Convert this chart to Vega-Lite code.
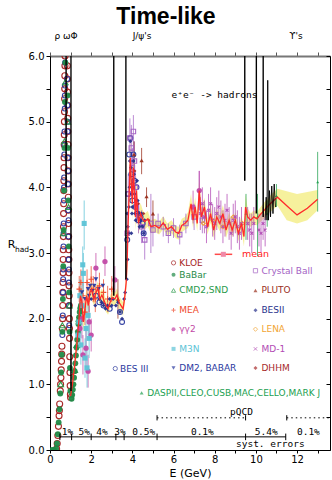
{
"$schema":"https://vega.github.io/schema/vega-lite/v6.json",
"width":280,"height":394,
"autosize":{"type":"none"},
"padding":{"left":50,"top":56,"right":2,"bottom":30},
"title":{"text":"Time-like","font":"Liberation Sans","fontSize":23,"fontWeight":"bold","anchor":"middle","dx":-24,"offset":3,"color":"#000"},
"config":{"view":{"stroke":null},"font":"DejaVu Sans"},
"datasets":{
"mean":[
{"x":1.0,"y":0.82,"lo":0.74,"hi":0.9},{"x":1.1,"y":1.02,"lo":0.92,"hi":1.12},{"x":1.2,"y":1.3,"lo":1.18,"hi":1.42},{"x":1.3,"y":1.6,"lo":1.46,"hi":1.74},{"x":1.4,"y":1.95,"lo":1.8,"hi":2.1},{"x":1.48,"y":2.35,"lo":2.2,"hi":2.5},{"x":1.55,"y":2.25,"lo":2.1,"hi":2.4},{"x":1.62,"y":1.95,"lo":1.8,"hi":2.1},{"x":1.7,"y":2.15,"lo":2.0,"hi":2.3},{"x":1.78,"y":2.35,"lo":2.22,"hi":2.48},{"x":1.86,"y":2.2,"lo":2.08,"hi":2.32},{"x":1.94,"y":2.4,"lo":2.28,"hi":2.52},{"x":2.02,"y":2.45,"lo":2.33,"hi":2.57},{"x":2.12,"y":2.3,"lo":2.2,"hi":2.4},{"x":2.22,"y":2.38,"lo":2.28,"hi":2.48},{"x":2.32,"y":2.47,"lo":2.37,"hi":2.57},{"x":2.42,"y":2.3,"lo":2.2,"hi":2.4},{"x":2.52,"y":2.36,"lo":2.26,"hi":2.46},{"x":2.62,"y":2.28,"lo":2.18,"hi":2.38},{"x":2.72,"y":2.2,"lo":2.1,"hi":2.3},{"x":2.82,"y":2.15,"lo":2.06,"hi":2.24},{"x":2.92,"y":2.25,"lo":2.15,"hi":2.35},{"x":3.02,"y":2.32,"lo":2.22,"hi":2.42},{"x":3.15,"y":2.3,"lo":2.2,"hi":2.4},{"x":3.25,"y":2.36,"lo":2.26,"hi":2.46},{"x":3.35,"y":2.25,"lo":2.15,"hi":2.35},{"x":3.45,"y":2.2,"lo":2.1,"hi":2.3},{"x":3.55,"y":2.15,"lo":2.05,"hi":2.25},{"x":3.62,"y":2.3,"lo":2.2,"hi":2.4},{"x":3.7,"y":2.55,"lo":2.4,"hi":2.7},{"x":3.75,"y":2.9,"lo":2.7,"hi":3.1},{"x":3.8,"y":3.5,"lo":3.25,"hi":3.75},{"x":3.85,"y":3.95,"lo":3.7,"hi":4.2},{"x":3.9,"y":4.45,"lo":4.15,"hi":4.75},{"x":3.95,"y":4.05,"lo":3.8,"hi":4.3},{"x":4.0,"y":3.75,"lo":3.5,"hi":4.0},{"x":4.05,"y":4.3,"lo":4.05,"hi":4.55},{"x":4.1,"y":3.9,"lo":3.65,"hi":4.15},{"x":4.15,"y":3.55,"lo":3.35,"hi":3.75},{"x":4.2,"y":3.95,"lo":3.7,"hi":4.2},{"x":4.25,"y":3.65,"lo":3.45,"hi":3.85},{"x":4.3,"y":3.45,"lo":3.28,"hi":3.62},{"x":4.4,"y":3.6,"lo":3.44,"hi":3.76},{"x":4.5,"y":3.52,"lo":3.38,"hi":3.66},{"x":4.6,"y":3.48,"lo":3.36,"hi":3.6},{"x":4.75,"y":3.52,"lo":3.4,"hi":3.64},{"x":4.9,"y":3.4,"lo":3.3,"hi":3.5},{"x":5.1,"y":3.42,"lo":3.32,"hi":3.52},{"x":5.3,"y":3.38,"lo":3.28,"hi":3.48},{"x":5.5,"y":3.46,"lo":3.36,"hi":3.56},{"x":5.7,"y":3.36,"lo":3.27,"hi":3.45},{"x":5.9,"y":3.4,"lo":3.3,"hi":3.5},{"x":6.1,"y":3.32,"lo":3.23,"hi":3.41},{"x":6.25,"y":3.3,"lo":3.2,"hi":3.4},{"x":6.4,"y":3.42,"lo":3.32,"hi":3.52},{"x":6.55,"y":3.45,"lo":3.35,"hi":3.55},{"x":6.7,"y":3.5,"lo":3.38,"hi":3.62},{"x":6.85,"y":3.75,"lo":3.6,"hi":3.9},{"x":6.95,"y":3.5,"lo":3.38,"hi":3.62},{"x":7.05,"y":3.7,"lo":3.55,"hi":3.85},{"x":7.15,"y":3.45,"lo":3.33,"hi":3.57},{"x":7.25,"y":3.95,"lo":3.75,"hi":4.15},{"x":7.35,"y":3.55,"lo":3.42,"hi":3.68},{"x":7.5,"y":3.7,"lo":3.56,"hi":3.84},{"x":7.65,"y":3.4,"lo":3.28,"hi":3.52},{"x":7.8,"y":3.6,"lo":3.46,"hi":3.74},{"x":7.95,"y":3.35,"lo":3.23,"hi":3.47},{"x":8.1,"y":3.55,"lo":3.42,"hi":3.68},{"x":8.25,"y":3.45,"lo":3.33,"hi":3.57},{"x":8.4,"y":3.6,"lo":3.47,"hi":3.73},{"x":8.55,"y":3.35,"lo":3.23,"hi":3.47},{"x":8.7,"y":3.5,"lo":3.38,"hi":3.62},{"x":8.85,"y":3.35,"lo":3.24,"hi":3.46},{"x":9.0,"y":3.5,"lo":3.38,"hi":3.62},{"x":9.15,"y":3.3,"lo":3.18,"hi":3.42},{"x":9.3,"y":3.45,"lo":3.33,"hi":3.57},{"x":9.42,"y":3.25,"lo":3.1,"hi":3.4},{"x":9.5,"y":3.7,"lo":3.5,"hi":3.9},{"x":9.6,"y":3.55,"lo":3.42,"hi":3.68},{"x":9.75,"y":3.5,"lo":3.4,"hi":3.6},{"x":9.9,"y":3.55,"lo":3.45,"hi":3.65},{"x":10.05,"y":3.52,"lo":3.42,"hi":3.62},{"x":10.2,"y":3.58,"lo":3.47,"hi":3.69},{"x":10.4,"y":3.65,"lo":3.53,"hi":3.77},{"x":10.6,"y":3.72,"lo":3.6,"hi":3.84},{"x":10.8,"y":3.78,"lo":3.65,"hi":3.91},{"x":11.05,"y":3.85,"lo":3.72,"hi":3.98},{"x":11.5,"y":3.72,"lo":3.5,"hi":3.94},{"x":12.0,"y":3.58,"lo":3.45,"hi":3.9},{"x":12.5,"y":3.68,"lo":3.5,"hi":3.93},{"x":13.0,"y":3.82,"lo":3.65,"hi":3.96}
],
"res":[
{"g":"w","x":0.775,"y":4},{"g":"w","x":0.782,"y":7},{"g":"w","x":0.789,"y":4},
{"g":"phi","x":1.012,"y":0.9},{"g":"phi","x":1.019,"y":7},{"g":"phi","x":1.026,"y":0.9},
{"g":"jpsi","x":3.09,"y":2.35},{"g":"jpsi","x":3.097,"y":7},{"g":"jpsi","x":3.104,"y":2.35},
{"g":"psi2","x":3.68,"y":2.6},{"g":"psi2","x":3.686,"y":7},{"g":"psi2","x":3.692,"y":2.6},
{"g":"y1","x":9.455,"y":4.1},{"g":"y1","x":9.46,"y":7},{"g":"y1","x":9.465,"y":4.1},
{"g":"y2","x":10.018,"y":3.6},{"g":"y2","x":10.023,"y":7},{"g":"y2","x":10.028,"y":3.6},
{"g":"y3","x":10.35,"y":3.55},{"g":"y3","x":10.355,"y":7},{"g":"y3","x":10.36,"y":3.55}
],
"wig":[
{"x":10.45,"y":3.5},{"x":10.5,"y":3.85},{"x":10.54,"y":3.5},{"x":10.575,"y":5.63},{"x":10.61,"y":3.5},{"x":10.66,"y":3.95},{"x":10.71,"y":3.55},{"x":10.77,"y":4.02},{"x":10.83,"y":3.6},{"x":10.89,"y":4.05},{"x":10.95,"y":3.7}
],
"pts":[
{"s":"KLOE","x":0.32,"y":0.02},{"s":"KLOE","x":0.35,"y":0.1},{"s":"KLOE","x":0.38,"y":0.22},{"s":"KLOE","x":0.41,"y":0.36},{"s":"KLOE","x":0.44,"y":0.52},{"s":"KLOE","x":0.47,"y":0.7},{"s":"KLOE","x":0.5,"y":0.9},{"s":"KLOE","x":0.53,"y":1.1},{"s":"KLOE","x":0.56,"y":1.35},{"s":"KLOE","x":0.58,"y":1.58},{"s":"KLOE","x":0.6,"y":1.85},{"s":"KLOE","x":0.62,"y":2.2},{"s":"KLOE","x":0.63,"y":2.55},{"s":"KLOE","x":0.64,"y":2.9},{"s":"KLOE","x":0.65,"y":3.25},{"s":"KLOE","x":0.66,"y":3.6},{"s":"KLOE","x":0.67,"y":3.95},{"s":"KLOE","x":0.68,"y":4.3},{"s":"KLOE","x":0.69,"y":4.65},{"s":"KLOE","x":0.7,"y":5.0},{"s":"KLOE","x":0.71,"y":5.35},{"s":"KLOE","x":0.72,"y":5.7},{"s":"KLOE","x":0.73,"y":6.0},{"s":"KLOE","x":0.84,"y":5.85},{"s":"KLOE","x":0.85,"y":5.45},{"s":"KLOE","x":0.86,"y":5.05},{"s":"KLOE","x":0.87,"y":4.65},{"s":"KLOE","x":0.88,"y":4.25},{"s":"KLOE","x":0.89,"y":3.85},{"s":"KLOE","x":0.9,"y":3.45},{"s":"KLOE","x":0.91,"y":3.05},{"s":"KLOE","x":0.92,"y":2.7},{"s":"KLOE","x":0.93,"y":2.35},{"s":"KLOE","x":0.94,"y":2.0},{"s":"KLOE","x":0.95,"y":1.7},{"s":"KLOE","x":0.96,"y":1.42},{"s":"KLOE","x":0.97,"y":1.18},{"s":"KLOE","x":0.98,"y":0.98},{"s":"KLOE","x":0.99,"y":0.85},{"s":"KLOE","x":1.0,"y":0.8},
{"s":"KLOE","x":0.615,"y":2.0},{"s":"KLOE","x":0.625,"y":2.4},{"s":"KLOE","x":0.635,"y":2.7},{"s":"KLOE","x":0.645,"y":3.05},{"s":"KLOE","x":0.655,"y":3.4},{"s":"KLOE","x":0.665,"y":3.75},{"s":"KLOE","x":0.675,"y":4.1},{"s":"KLOE","x":0.685,"y":4.45},{"s":"KLOE","x":0.695,"y":4.8},{"s":"KLOE","x":0.705,"y":5.15},{"s":"KLOE","x":0.715,"y":5.5},{"s":"KLOE","x":0.725,"y":5.85},{"s":"KLOE","x":0.845,"y":5.65},{"s":"KLOE","x":0.855,"y":5.25},{"s":"KLOE","x":0.865,"y":4.85},{"s":"KLOE","x":0.875,"y":4.45},{"s":"KLOE","x":0.885,"y":4.05},{"s":"KLOE","x":0.895,"y":3.65},{"s":"KLOE","x":0.905,"y":3.25},{"s":"KLOE","x":0.915,"y":2.9},{"s":"KLOE","x":0.925,"y":2.5},{"s":"KLOE","x":0.935,"y":2.2},{"s":"KLOE","x":0.945,"y":1.85},{"s":"KLOE","x":0.455,"y":0.6},{"s":"KLOE","x":0.515,"y":1.0},{"s":"KLOE","x":0.545,"y":1.22},{"s":"KLOE","x":0.57,"y":1.46},
{"s":"BES3","x":0.6,"y":1.75},{"s":"BES3","x":0.62,"y":2.05},{"s":"BES3","x":0.63,"y":2.4},{"s":"BES3","x":0.645,"y":2.75},{"s":"BES3","x":0.655,"y":3.1},{"s":"BES3","x":0.665,"y":3.45},{"s":"BES3","x":0.675,"y":3.8},{"s":"BES3","x":0.685,"y":4.15},{"s":"BES3","x":0.695,"y":4.5},{"s":"BES3","x":0.705,"y":4.85},{"s":"BES3","x":0.715,"y":5.2},{"s":"BES3","x":0.725,"y":5.55},{"s":"BES3","x":0.735,"y":5.9},{"s":"BES3","x":0.835,"y":5.65},{"s":"BES3","x":0.845,"y":5.25},{"s":"BES3","x":0.855,"y":4.85},{"s":"BES3","x":0.865,"y":4.45},{"s":"BES3","x":0.875,"y":4.05},{"s":"BES3","x":0.885,"y":3.65},{"s":"BES3","x":0.895,"y":3.25},{"s":"BES3","x":0.905,"y":2.9},{"s":"BES3","x":0.915,"y":2.55},{"s":"BES3","x":0.925,"y":2.2},{"s":"BES3","x":0.935,"y":1.9},
{"s":"BES3","x":0.64,"y":2.6},{"s":"BES3","x":0.66,"y":3.3},{"s":"BES3","x":0.68,"y":4.0},{"s":"BES3","x":0.7,"y":4.65},{"s":"BES3","x":0.72,"y":5.4},{"s":"BES3","x":0.86,"y":5.0},{"s":"BES3","x":0.88,"y":4.25},{"s":"BES3","x":0.9,"y":3.5},{"s":"BES3","x":0.92,"y":2.75},
{"s":"BES3","x":2.23,"y":2.35},{"s":"BES3","x":2.4,"y":2.25},{"s":"BES3","x":2.6,"y":2.2},{"s":"BES3","x":2.9,"y":2.15},{"s":"BES3","x":3.4,"y":2.1},{"s":"BES3","x":3.5,"y":1.95},{"s":"BES3","x":3.75,"y":3.2},{"s":"BES3","x":3.8,"y":3.9},{"s":"BES3","x":3.85,"y":4.5},{"s":"BES3","x":3.9,"y":4.75},{"s":"BES3","x":3.95,"y":4.2},{"s":"BES3","x":4.0,"y":3.8},{"s":"BES3","x":4.05,"y":4.5},{"s":"BES3","x":4.1,"y":4.1},{"s":"BES3","x":4.15,"y":3.7},{"s":"BES3","x":4.2,"y":4.0},{"s":"BES3","x":4.25,"y":3.6},{"s":"BES3","x":4.3,"y":3.5},{"s":"BES3","x":4.4,"y":3.55},{"s":"BES3","x":4.5,"y":3.45},{"s":"BES3","x":4.55,"y":3.3},
{"s":"BaBar","x":0.1,"y":0.0},{"s":"BaBar","x":0.2,"y":0.0},{"s":"BaBar","x":0.3,"y":0.02},{"s":"BaBar","x":0.34,"y":0.1},{"s":"BaBar","x":0.38,"y":0.24},{"s":"BaBar","x":0.42,"y":0.42},{"s":"BaBar","x":0.46,"y":0.62},{"s":"BaBar","x":0.5,"y":0.86},{"s":"BaBar","x":0.54,"y":1.18},{"s":"BaBar","x":0.57,"y":1.45},{"s":"BaBar","x":0.6,"y":1.8},{"s":"BaBar","x":0.625,"y":2.3},{"s":"BaBar","x":0.645,"y":2.8},{"s":"BaBar","x":0.665,"y":3.35},{"s":"BaBar","x":0.685,"y":3.95},{"s":"BaBar","x":0.705,"y":4.6},{"s":"BaBar","x":0.725,"y":5.3},{"s":"BaBar","x":0.745,"y":5.9},{"s":"BaBar","x":0.85,"y":5.4},{"s":"BaBar","x":0.87,"y":4.6},{"s":"BaBar","x":0.89,"y":3.8},{"s":"BaBar","x":0.91,"y":3.1},{"s":"BaBar","x":0.93,"y":2.4},{"s":"BaBar","x":0.95,"y":1.8},{"s":"BaBar","x":0.97,"y":1.25},{"s":"BaBar","x":0.99,"y":0.9},{"s":"BaBar","x":1.05,"y":0.78},{"s":"BaBar","x":1.08,"y":0.84},{"s":"BaBar","x":1.11,"y":0.92},{"s":"BaBar","x":1.14,"y":1.0},{"s":"BaBar","x":1.17,"y":1.1},{"s":"BaBar","x":1.2,"y":1.2},{"s":"BaBar","x":1.23,"y":1.32},{"s":"BaBar","x":1.26,"y":1.44},{"s":"BaBar","x":1.29,"y":1.56},{"s":"BaBar","x":1.32,"y":1.68},{"s":"BaBar","x":1.35,"y":1.8},{"s":"BaBar","x":1.38,"y":1.92},{"s":"BaBar","x":1.41,"y":2.02},{"s":"BaBar","x":1.44,"y":2.1},{"s":"BaBar","x":1.47,"y":2.16},{"s":"BaBar","x":1.5,"y":2.2},
{"s":"CMD2","x":0.52,"y":1.0},{"s":"CMD2","x":0.6,"y":1.9},{"s":"CMD2","x":0.66,"y":3.3},{"s":"CMD2","x":0.7,"y":4.7},{"s":"CMD2","x":0.74,"y":5.6},{"s":"CMD2","x":0.86,"y":5.0},{"s":"CMD2","x":0.9,"y":3.7},{"s":"CMD2","x":0.94,"y":2.2},{"s":"CMD2","x":1.2,"y":1.22},{"s":"CMD2","x":1.3,"y":1.6},{"s":"CMD2","x":1.4,"y":2.0},
{"s":"MEA","x":1.42,"y":2.45,"lo":2.25,"hi":2.65},{"s":"MEA","x":1.5,"y":2.55,"lo":2.35,"hi":2.75},{"s":"MEA","x":1.6,"y":2.35,"lo":2.15,"hi":2.55},{"s":"MEA","x":1.7,"y":2.1,"lo":1.9,"hi":2.3},{"s":"MEA","x":1.8,"y":2.55,"lo":2.35,"hi":2.75},{"s":"MEA","x":1.9,"y":2.3,"lo":2.1,"hi":2.5},{"s":"MEA","x":2.0,"y":2.6,"lo":2.4,"hi":2.8},{"s":"MEA","x":2.1,"y":2.45,"lo":2.25,"hi":2.65},{"s":"MEA","x":2.2,"y":2.3,"lo":2.1,"hi":2.5},{"s":"MEA","x":2.4,"y":2.5,"lo":2.3,"hi":2.7},{"s":"MEA","x":2.6,"y":2.4,"lo":2.2,"hi":2.6},{"s":"MEA","x":2.8,"y":2.3,"lo":2.1,"hi":2.5},{"s":"MEA","x":3.0,"y":2.45,"lo":2.25,"hi":2.65},
{"s":"gg2","x":1.45,"y":1.85,"lo":1.6,"hi":2.1},{"s":"gg2","x":1.55,"y":2.0,"lo":1.7,"hi":2.3},{"s":"gg2","x":1.6,"y":1.45,"lo":1.15,"hi":1.75},{"s":"gg2","x":1.75,"y":1.55,"lo":1.25,"hi":1.85},{"s":"gg2","x":1.9,"y":1.95,"lo":1.7,"hi":2.2},{"s":"gg2","x":2.0,"y":1.75,"lo":1.5,"hi":2.0},{"s":"gg2","x":1.85,"y":1.2,"lo":0.95,"hi":1.45},{"s":"gg2","x":2.23,"y":2.77,"lo":2.55,"hi":3.0},{"s":"gg2","x":2.67,"y":2.87,"lo":2.65,"hi":3.1},{"s":"gg2","x":3.15,"y":2.59,"lo":2.4,"hi":2.8},{"s":"gg2","x":6.95,"y":3.7,"lo":3.45,"hi":3.95},{"s":"gg2","x":7.25,"y":3.95,"lo":3.65,"hi":4.25},
{"s":"M3N","x":1.35,"y":1.75,"lo":1.5,"hi":2.0},{"s":"M3N","x":1.4,"y":1.95,"lo":1.7,"hi":2.2},{"s":"M3N","x":1.45,"y":2.35,"lo":2.1,"hi":2.6},{"s":"M3N","x":1.5,"y":1.6,"lo":1.3,"hi":1.9},{"s":"M3N","x":1.55,"y":2.2,"lo":1.9,"hi":2.5},{"s":"M3N","x":1.59,"y":2.82,"lo":2.5,"hi":3.1},{"s":"M3N","x":1.62,"y":2.69,"lo":2.4,"hi":3.0},{"s":"M3N","x":1.66,"y":3.45,"lo":3.05,"hi":3.8},{"s":"M3N","x":1.7,"y":1.4,"lo":1.1,"hi":1.7},{"s":"M3N","x":1.75,"y":1.85,"lo":1.5,"hi":2.2},{"s":"M3N","x":1.8,"y":1.25,"lo":0.95,"hi":1.55},{"s":"M3N","x":1.85,"y":2.05,"lo":1.75,"hi":2.35},{"s":"M3N","x":1.9,"y":1.7,"lo":1.4,"hi":2.0},
{"s":"DM2","x":1.55,"y":2.4},{"s":"DM2","x":1.7,"y":2.3},{"s":"DM2","x":1.85,"y":2.45},{"s":"DM2","x":1.9,"y":2.35},{"s":"DM2","x":1.95,"y":2.5},{"s":"DM2","x":2.05,"y":2.42},{"s":"DM2","x":2.15,"y":2.5},{"s":"DM2","x":2.23,"y":2.6},{"s":"DM2","x":2.35,"y":2.45},{"s":"DM2","x":2.57,"y":2.5},
{"s":"BES2","x":2.0,"y":2.3},{"s":"BES2","x":2.2,"y":2.2},{"s":"BES2","x":2.4,"y":2.3},{"s":"BES2","x":2.5,"y":2.25},{"s":"BES2","x":2.6,"y":2.2},{"s":"BES2","x":2.7,"y":2.15},{"s":"BES2","x":2.8,"y":2.2},{"s":"BES2","x":2.9,"y":2.3},{"s":"BES2","x":3.0,"y":2.2},{"s":"BES2","x":3.07,"y":2.3},{"s":"BES2","x":3.2,"y":2.2},{"s":"BES2","x":3.3,"y":2.25},{"s":"BES2","x":3.4,"y":2.1},{"s":"BES2","x":3.5,"y":2.0},{"s":"BES2","x":3.6,"y":2.3},{"s":"BES2","x":3.65,"y":2.4},{"s":"BES2","x":3.73,"y":2.6},{"s":"BES2","x":3.75,"y":3.6},{"s":"BES2","x":3.77,"y":2.9},{"s":"BES2","x":3.78,"y":3.4},{"s":"BES2","x":3.8,"y":3.3},{"s":"BES2","x":3.83,"y":3.7},{"s":"BES2","x":3.86,"y":4.0},{"s":"BES2","x":3.88,"y":4.4},{"s":"BES2","x":3.9,"y":4.7},{"s":"BES2","x":3.93,"y":4.3},{"s":"BES2","x":3.95,"y":3.3},{"s":"BES2","x":3.96,"y":3.9},{"s":"BES2","x":3.98,"y":3.6},{"s":"BES2","x":4.0,"y":3.7},{"s":"BES2","x":4.03,"y":4.0},{"s":"BES2","x":4.06,"y":4.4},{"s":"BES2","x":4.08,"y":4.2},{"s":"BES2","x":4.1,"y":3.9},{"s":"BES2","x":4.13,"y":3.6},{"s":"BES2","x":4.16,"y":3.5},{"s":"BES2","x":4.2,"y":3.8},{"s":"BES2","x":4.23,"y":4.1},{"s":"BES2","x":4.26,"y":3.8},{"s":"BES2","x":4.3,"y":3.6},{"s":"BES2","x":4.35,"y":3.4},{"s":"BES2","x":4.4,"y":3.5},{"s":"BES2","x":4.45,"y":3.6},{"s":"BES2","x":4.5,"y":3.4},{"s":"BES2","x":4.55,"y":3.3},{"s":"BES2","x":4.6,"y":3.5},
{"s":"CB","x":3.75,"y":3.3,"lo":3.0,"hi":3.6},{"s":"CB","x":3.8,"y":3.9,"lo":3.6,"hi":4.2},{"s":"CB","x":3.88,"y":4.75,"lo":4.45,"hi":5.05},{"s":"CB","x":3.95,"y":4.6,"lo":4.3,"hi":4.95},{"s":"CB","x":4.0,"y":4.3,"lo":4.0,"hi":4.6},{"s":"CB","x":4.05,"y":4.85,"lo":4.55,"hi":5.1},{"s":"CB","x":4.1,"y":4.4,"lo":4.1,"hi":4.7},{"s":"CB","x":4.15,"y":4.0,"lo":3.75,"hi":4.25},{"s":"CB","x":4.2,"y":3.7,"lo":3.45,"hi":3.95},{"s":"CB","x":4.3,"y":3.55,"lo":3.3,"hi":3.8},{"s":"CB","x":4.45,"y":3.4,"lo":3.15,"hi":3.65},{"s":"CB","x":4.6,"y":3.2,"lo":2.9,"hi":3.5},{"s":"CB","x":4.9,"y":3.45,"lo":3.0,"hi":3.9},{"s":"CB","x":5.0,"y":3.35,"lo":3.1,"hi":3.6},{"s":"CB","x":5.25,"y":3.45,"lo":3.3,"hi":3.6},{"s":"CB","x":5.5,"y":3.4,"lo":3.25,"hi":3.55},{"s":"CB","x":5.75,"y":3.3,"lo":3.15,"hi":3.45},{"s":"CB","x":6.0,"y":3.38,"lo":3.23,"hi":3.53},{"s":"CB","x":6.3,"y":3.28,"lo":3.13,"hi":3.43},{"s":"CB","x":6.6,"y":3.45,"lo":3.3,"hi":3.6},{"s":"CB","x":7.0,"y":3.55,"lo":3.35,"hi":3.75},{"s":"CB","x":7.4,"y":3.5,"lo":3.3,"hi":3.7},
{"s":"PLUTO","x":3.3,"y":2.3,"lo":2.0,"hi":2.6},{"s":"PLUTO","x":4.08,"y":4.5,"lo":4.3,"hi":4.7},{"s":"PLUTO","x":4.45,"y":4.41,"lo":4.2,"hi":4.6},{"s":"PLUTO","x":4.69,"y":3.86,"lo":3.7,"hi":4.0},{"s":"PLUTO","x":5.0,"y":3.6,"lo":3.4,"hi":3.8},
{"s":"LENA","x":7.45,"y":3.45},{"s":"LENA","x":7.9,"y":3.5},{"s":"LENA","x":8.4,"y":3.4},{"s":"LENA","x":8.9,"y":3.55},{"s":"LENA","x":9.35,"y":3.45},
{"s":"MD1","x":7.25,"y":3.95,"lo":3.65,"hi":4.25},{"s":"MD1","x":7.3,"y":3.6,"lo":3.35,"hi":3.85},{"s":"MD1","x":7.4,"y":3.75,"lo":3.5,"hi":4.0},{"s":"MD1","x":7.5,"y":3.55,"lo":3.3,"hi":3.8},{"s":"MD1","x":7.6,"y":3.4,"lo":3.15,"hi":3.65},{"s":"MD1","x":7.7,"y":3.65,"lo":3.4,"hi":3.9},{"s":"MD1","x":7.8,"y":3.75,"lo":3.5,"hi":4.0},{"s":"MD1","x":7.9,"y":3.5,"lo":3.25,"hi":3.75},{"s":"MD1","x":8.0,"y":3.45,"lo":3.2,"hi":3.7},{"s":"MD1","x":8.1,"y":3.6,"lo":3.35,"hi":3.85},{"s":"MD1","x":8.2,"y":3.7,"lo":3.45,"hi":3.95},{"s":"MD1","x":8.3,"y":3.55,"lo":3.3,"hi":3.8},{"s":"MD1","x":8.4,"y":3.4,"lo":3.15,"hi":3.65},{"s":"MD1","x":8.5,"y":3.5,"lo":3.25,"hi":3.75},{"s":"MD1","x":8.6,"y":3.65,"lo":3.4,"hi":3.9},{"s":"MD1","x":8.7,"y":3.45,"lo":3.2,"hi":3.7},{"s":"MD1","x":8.8,"y":3.3,"lo":3.05,"hi":3.55},{"s":"MD1","x":8.9,"y":3.5,"lo":3.25,"hi":3.75},{"s":"MD1","x":9.0,"y":3.55,"lo":3.3,"hi":3.8},{"s":"MD1","x":9.1,"y":3.4,"lo":3.15,"hi":3.65},{"s":"MD1","x":9.2,"y":3.3,"lo":3.05,"hi":3.55},{"s":"MD1","x":9.3,"y":3.45,"lo":3.2,"hi":3.7},{"s":"MD1","x":9.6,"y":3.45,"lo":3.2,"hi":3.7},{"s":"MD1","x":9.7,"y":3.35,"lo":3.1,"hi":3.6},{"s":"MD1","x":9.8,"y":3.3,"lo":3.0,"hi":3.6},{"s":"MD1","x":9.9,"y":3.45,"lo":3.2,"hi":3.7},{"s":"MD1","x":10.15,"y":3.35,"lo":3.1,"hi":3.6},{"s":"MD1","x":10.25,"y":3.3,"lo":3.0,"hi":3.6},{"s":"MD1","x":10.35,"y":3.45,"lo":3.2,"hi":3.7},{"s":"MD1","x":10.45,"y":3.35,"lo":3.1,"hi":3.6},
{"s":"DHHM","x":3.95,"y":4.05},{"s":"DHHM","x":4.12,"y":4.25},{"s":"DHHM","x":4.3,"y":3.75},{"s":"DHHM","x":4.55,"y":3.6},{"s":"DHHM","x":4.8,"y":3.5},
{"s":"DASP","x":9.52,"y":3.6,"lo":3.2,"hi":3.9},{"s":"DASP","x":10.08,"y":3.55,"lo":2.95,"hi":3.9},{"s":"DASP","x":10.55,"y":3.6,"lo":3.4,"hi":3.8},{"s":"DASP","x":11.0,"y":3.87,"lo":3.7,"hi":4.05},{"s":"DASP","x":13.0,"y":4.08,"lo":3.63,"hi":4.54}
],
"leg":[
{"s":"KLOE","x":6.0,"tx":6.28,"y":2.85,"label":"KLOE"},{"s":"BaBar","x":6.0,"tx":6.28,"y":2.67,"label":"BaBar"},{"s":"CMD2","x":6.0,"tx":6.28,"y":2.43,"label":"CMD2,SND"},{"s":"MEA","x":6.0,"tx":6.28,"y":2.13,"label":"MEA"},{"s":"gg2","x":6.0,"tx":6.28,"y":1.84,"label":"γγ2"},{"s":"M3N","x":6.0,"tx":6.28,"y":1.54,"label":"M3N"},{"s":"DM2","x":6.0,"tx":6.28,"y":1.25,"label":"DM2, BABAR"},
{"s":"CB","x":9.98,"tx":10.27,"y":2.73,"label":"Crystal Ball"},{"s":"PLUTO","x":9.98,"tx":10.27,"y":2.43,"label":"PLUTO"},{"s":"BES2","x":9.98,"tx":10.27,"y":2.13,"label":"BESII"},{"s":"LENA","x":9.98,"tx":10.27,"y":1.84,"label":"LENA"},{"s":"MD1","x":9.98,"tx":10.27,"y":1.54,"label":"MD-1"},{"s":"DHHM","x":9.98,"tx":10.27,"y":1.25,"label":"DHHM"},
{"s":"BES3","x":3.17,"tx":3.4,"y":1.24,"label":"BES  III"},{"s":"DASP","x":4.45,"tx":4.72,"y":0.87,"label":"DASPII,CLEO,CUSB,MAC,CELLO,MARK J"}
],
"meanleg":[{"x":8.0,"x2":8.85,"y":2.98,"px":8.42,"tx":9.33,"t":"mean"}],
"seg":[
{"x":0.48,"x2":11.45,"y":0.2,"y2":0.2},{"x":0.48,"x2":0.48,"y":0.15,"y2":0.25},{"x":1.05,"x2":1.05,"y":0.15,"y2":0.25},{"x":2.0,"x2":2.0,"y":0.15,"y2":0.25},{"x":3.2,"x2":3.2,"y":0.15,"y2":0.25},{"x":3.6,"x2":3.6,"y":0.15,"y2":0.25},{"x":5.2,"x2":5.2,"y":0.15,"y2":0.25},{"x":9.5,"x2":9.5,"y":0.15,"y2":0.25},{"x":11.45,"x2":11.45,"y":0.15,"y2":0.25},
{"x":5.2,"x2":5.2,"y":0.45,"y2":0.53},{"x":9.5,"x2":9.5,"y":0.45,"y2":0.53},{"x":11.5,"x2":11.5,"y":0.45,"y2":0.53}
],
"dseg":[{"x":5.2,"x2":9.5,"y":0.49,"y2":0.49},{"x":11.5,"x2":13.6,"y":0.49,"y2":0.49}],
"ann":[
{"t":"e⁺e⁻ -> hadrons","x":7.99,"y":5.36},{"t":"pQCD","x":9.3,"y":0.53},{"t":"syst. errors","x":10.7,"y":0.05},
{"t":"1%","x":0.85,"y":0.235},{"t":"5%","x":1.66,"y":0.235},{"t":"4%","x":2.52,"y":0.235},{"t":"3%","x":3.4,"y":0.235},{"t":"0.5%","x":4.55,"y":0.235},{"t":"0.1%","x":7.4,"y":0.235},{"t":"5.4%","x":10.5,"y":0.235},{"t":"0.1%","x":12.55,"y":0.235}
],
"top":[{"t":"ρ ωΦ","x":0.78,"y":6.26},{"t":"J/ψ's","x":4.47,"y":6.26},{"t":"ϒ's","x":11.95,"y":6.26}],
"rlab":[{"t":"R","x":-2.05,"y":3.08,"fs":11},{"t":"had","x":-1.7,"y":3.02,"fs":7.5}]
},
"encoding":{
"x":{"field":"x","type":"quantitative","scale":{"domain":[0,13.6],"nice":false,"zero":false},"axis":null},
"y":{"field":"y","type":"quantitative","scale":{"domain":[0,6],"nice":false,"zero":false},"axis":null}
},
"layer":[
{"data":{"name":"mean"},"mark":{"type":"area","color":"#f4ef8c","opacity":0.85,"clip":true},
 "encoding":{"y":{"field":"lo","type":"quantitative","scale":{"domain":[0,6],"nice":false,"zero":false},"axis":null},"y2":{"field":"hi"}}},
{"data":{"name":"pts"},"transform":[{"filter":"isValid(datum.lo)"}],"mark":{"type":"rule","strokeWidth":1,"opacity":0.75,"clip":true},
 "encoding":{"y":{"field":"lo","type":"quantitative","scale":{"domain":[0,6],"nice":false,"zero":false},"axis":null},"y2":{"field":"hi"},
 "color":{"field":"s","type":"nominal","legend":null,"scale":{"domain":["KLOE","BaBar","CMD2","MEA","gg2","M3N","BES3","DM2","CB","PLUTO","BES2","LENA","MD1","DHHM","DASP"],"range":["#a51d1d","#1f8a47","#2a9a4a","#ef4a2c","#c24aa6","#5cc3d6","#2a389e","#2a389e","#a463c4","#9a2f1c","#27308c","#f2a534","#b24ab4","#a62a2a","#21a050"]}}}},
{"data":{"name":"pts"},"transform":[{"filter":{"field":"s","oneOf":["KLOE","CMD2","MEA","BES3","CB","LENA","MD1"]}}],"mark":{"type":"point","filled":false,"strokeWidth":1.1,"opacity":0.95,"clip":true},
 "encoding":{
 "color":{"field":"s","type":"nominal","legend":null,"scale":{"domain":["KLOE","BaBar","CMD2","MEA","gg2","M3N","BES3","DM2","CB","PLUTO","BES2","LENA","MD1","DHHM","DASP"],"range":["#a51d1d","#1f8a47","#2a9a4a","#ef4a2c","#c24aa6","#5cc3d6","#2a389e","#2a389e","#a463c4","#9a2f1c","#27308c","#f2a534","#b24ab4","#a62a2a","#21a050"]}},
 "shape":{"field":"s","type":"nominal","legend":null,"scale":{"domain":["KLOE","BaBar","CMD2","MEA","gg2","M3N","BES3","DM2","CB","PLUTO","BES2","LENA","MD1","DHHM","DASP"],"range":["circle","circle","triangle-up","M-1,0H1M0,-1V1","circle","square","circle","triangle-down","square","triangle-up","diamond","diamond","M-0.8,-0.8L0.8,0.8M-0.8,0.8L0.8,-0.8","diamond","triangle-up"]}},
 "size":{"field":"s","type":"nominal","legend":null,"scale":{"domain":["KLOE","BaBar","CMD2","MEA","gg2","M3N","BES3","DM2","CB","PLUTO","BES2","LENA","MD1","DHHM","DASP"],"range":[36,8,22,36,26,22,36,22,30,26,18,16,22,10,24]}}}},
{"data":{"name":"pts"},"transform":[{"filter":{"field":"s","oneOf":["BaBar","gg2","M3N","DM2","PLUTO","BES2","DHHM","DASP"]}}],"mark":{"type":"point","filled":true,"opacity":0.95,"clip":true},
 "encoding":{
 "color":{"field":"s","type":"nominal","legend":null,"scale":{"domain":["KLOE","BaBar","CMD2","MEA","gg2","M3N","BES3","DM2","CB","PLUTO","BES2","LENA","MD1","DHHM","DASP"],"range":["#a51d1d","#1f8a47","#2a9a4a","#ef4a2c","#c24aa6","#5cc3d6","#2a389e","#2a389e","#a463c4","#9a2f1c","#27308c","#f2a534","#b24ab4","#a62a2a","#21a050"]}},
 "shape":{"field":"s","type":"nominal","legend":null,"scale":{"domain":["KLOE","BaBar","CMD2","MEA","gg2","M3N","BES3","DM2","CB","PLUTO","BES2","LENA","MD1","DHHM","DASP"],"range":["circle","circle","triangle-up","M-1,0H1M0,-1V1","circle","square","circle","triangle-down","square","triangle-up","diamond","diamond","M-0.8,-0.8L0.8,0.8M-0.8,0.8L0.8,-0.8","diamond","triangle-up"]}},
 "size":{"field":"s","type":"nominal","legend":null,"scale":{"domain":["KLOE","BaBar","CMD2","MEA","gg2","M3N","BES3","DM2","CB","PLUTO","BES2","LENA","MD1","DHHM","DASP"],"range":[36,8,22,36,26,22,36,22,30,26,22,16,22,10,24]}}}},
{"data":{"name":"mean"},"mark":{"type":"line","color":"#ff2a2a","strokeWidth":1.3,"clip":true},"encoding":{}},
{"data":{"name":"res"},"mark":{"type":"line","color":"#000","strokeWidth":1.3,"clip":true},"encoding":{"detail":{"field":"g","type":"nominal"}}},
{"data":{"name":"wig"},"mark":{"type":"line","color":"#000","strokeWidth":0.9,"clip":true},"encoding":{}},
{"data":{"name":"seg"},"mark":{"type":"rule","color":"#000","strokeWidth":1},"encoding":{"x2":{"field":"x2"},"y2":{"field":"y2"}}},
{"data":{"name":"dseg"},"mark":{"type":"rule","color":"#000","strokeWidth":1,"strokeDash":[1.5,3]},"encoding":{"x2":{"field":"x2"},"y2":{"field":"y2"}}},
{"data":{"name":"ann"},"mark":{"type":"text","font":"DejaVu Sans Mono","fontSize":9.5,"color":"#000","baseline":"alphabetic","align":"center"},"encoding":{"text":{"field":"t"}}},
{"data":{"name":"top"},"mark":{"type":"text","font":"DejaVu Sans","fontSize":9,"color":"#000","baseline":"alphabetic","align":"center"},"encoding":{"text":{"field":"t"}}},
{"data":{"name":"rlab"},"mark":{"type":"text","font":"DejaVu Sans","color":"#000","baseline":"alphabetic","align":"left"},"encoding":{"text":{"field":"t"},"size":{"field":"fs","type":"quantitative","scale":null}}},
{"data":{"name":"leg"},"transform":[{"filter":{"field":"s","oneOf":["KLOE","CMD2","MEA","BES3","CB","LENA","MD1"]}}],"mark":{"type":"point","filled":false,"strokeWidth":1,"size":18},
 "encoding":{
 "color":{"field":"s","type":"nominal","legend":null,"scale":{"domain":["KLOE","BaBar","CMD2","MEA","gg2","M3N","BES3","DM2","CB","PLUTO","BES2","LENA","MD1","DHHM","DASP"],"range":["#a51d1d","#1f8a47","#2a9a4a","#ef4a2c","#c24aa6","#5cc3d6","#2a389e","#2a389e","#a463c4","#9a2f1c","#27308c","#f2a534","#b24ab4","#a62a2a","#21a050"]}},
 "shape":{"field":"s","type":"nominal","legend":null,"scale":{"domain":["KLOE","BaBar","CMD2","MEA","gg2","M3N","BES3","DM2","CB","PLUTO","BES2","LENA","MD1","DHHM","DASP"],"range":["circle","circle","triangle-up","M-1,0H1M0,-1V1","circle","square","circle","triangle-down","square","triangle-up","diamond","diamond","M-0.8,-0.8L0.8,0.8M-0.8,0.8L0.8,-0.8","diamond","triangle-up"]}}}},
{"data":{"name":"leg"},"transform":[{"filter":{"field":"s","oneOf":["BaBar","gg2","M3N","DM2","PLUTO","BES2","DHHM","DASP"]}}],"mark":{"type":"point","filled":true,"size":16},
 "encoding":{
 "color":{"field":"s","type":"nominal","legend":null,"scale":{"domain":["KLOE","BaBar","CMD2","MEA","gg2","M3N","BES3","DM2","CB","PLUTO","BES2","LENA","MD1","DHHM","DASP"],"range":["#a51d1d","#1f8a47","#2a9a4a","#ef4a2c","#c24aa6","#5cc3d6","#2a389e","#2a389e","#a463c4","#9a2f1c","#27308c","#f2a534","#b24ab4","#a62a2a","#21a050"]}},
 "shape":{"field":"s","type":"nominal","legend":null,"scale":{"domain":["KLOE","BaBar","CMD2","MEA","gg2","M3N","BES3","DM2","CB","PLUTO","BES2","LENA","MD1","DHHM","DASP"],"range":["circle","circle","triangle-up","M-1,0H1M0,-1V1","circle","square","circle","triangle-down","square","triangle-up","diamond","diamond","M-0.8,-0.8L0.8,0.8M-0.8,0.8L0.8,-0.8","diamond","triangle-up"]}}}},
{"data":{"name":"leg"},"mark":{"type":"text","font":"DejaVu Sans","fontSize":9,"align":"left","baseline":"middle"},
 "encoding":{"x":{"field":"tx","type":"quantitative","scale":{"domain":[0,13.6],"nice":false,"zero":false},"axis":null},"text":{"field":"label"},
 "color":{"field":"s","type":"nominal","legend":null,"scale":{"domain":["KLOE","BaBar","CMD2","MEA","gg2","M3N","BES3","DM2","CB","PLUTO","BES2","LENA","MD1","DHHM","DASP"],"range":["#a51d1d","#1f8a47","#2a9a4a","#ef4a2c","#c24aa6","#5cc3d6","#2a389e","#2a389e","#a463c4","#9a2f1c","#27308c","#f2a534","#b24ab4","#a62a2a","#21a050"]}}}},
{"data":{"name":"meanleg"},"mark":{"type":"rule","color":"#ff4a4a","strokeWidth":1.5},"encoding":{"x2":{"field":"x2"}}},
{"data":{"name":"meanleg"},"mark":{"type":"square","color":"#f08aa8","size":25,"opacity":1},"encoding":{"x":{"field":"px","type":"quantitative","scale":{"domain":[0,13.6],"nice":false,"zero":false},"axis":null}}},
{"data":{"name":"meanleg"},"mark":{"type":"text","font":"DejaVu Sans","fontSize":9.5,"color":"#ff2020","align":"left","baseline":"middle"},"encoding":{"x":{"field":"tx","type":"quantitative","scale":{"domain":[0,13.6],"nice":false,"zero":false},"axis":null},"text":{"field":"t"}}},
{"data":{"name":"mean"},"mark":{"type":"point","opacity":0},
 "encoding":{
 "x":{"field":"x","type":"quantitative","scale":{"domain":[0,13.6],"nice":false,"zero":false},"axis":{"orient":"bottom","values":[0,1,2,3,4,5,6,7,8,9,10,11,12,13],"labelExpr":"datum.value % 2 === 0 ? datum.label : ''","title":"E (GeV)","titleFont":"DejaVu Sans","titleFontSize":11,"titleFontWeight":"normal","titleColor":"#000","titlePadding":3,"labelFont":"DejaVu Sans","labelFontSize":10,"labelColor":"#000","labelPadding":1,"tickSize":3,"tickColor":"#000","domainColor":"#000","grid":false,"labelFlush":false}},
 "y":{"field":"y","type":"quantitative","scale":{"domain":[0,6],"nice":false,"zero":false},"axis":{"orient":"left","values":[0,0.5,1,1.5,2,2.5,3,3.5,4,4.5,5,5.5,6],"labelExpr":"datum.value % 1 === 0 ? datum.label : ''","title":null,"labelFont":"DejaVu Sans","labelFontSize":10,"labelColor":"#000","labelPadding":2,"tickSize":4,"tickColor":"#000","domainColor":"#000","grid":false,"labelFlush":false}}}},
{"data":{"name":"mean"},"mark":{"type":"point","opacity":0},
 "encoding":{
 "x":{"field":"x","type":"quantitative","scale":{"domain":[0,13.6],"nice":false,"zero":false},"axis":{"orient":"top","values":[0,1,2,3,4,5,6,7,8,9,10,11,12,13],"labels":false,"title":null,"tickSize":4,"tickColor":"#555","domainColor":"#777","domainWidth":2,"grid":false}},
 "y":{"field":"y","type":"quantitative","scale":{"domain":[0,6],"nice":false,"zero":false},"axis":{"orient":"right","values":[0,0.5,1,1.5,2,2.5,3,3.5,4,4.5,5,5.5,6],"labels":false,"title":null,"tickSize":-4,"tickColor":"#000","domainColor":"#000","grid":false}}}}
],
"resolve":{"axis":{"x":"independent","y":"independent"}}
}
